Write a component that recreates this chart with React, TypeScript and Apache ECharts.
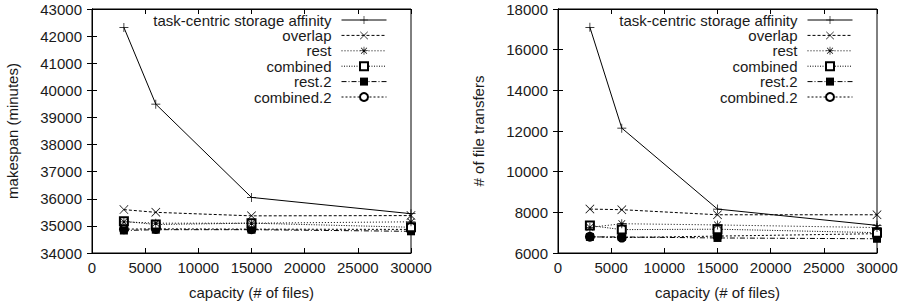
import React, { useEffect, useRef } from "react";
import * as echarts from "echarts";

const capacities = [3000, 6000, 15000, 30000];
const seriesNames = [
  "task-centric storage affinity",
  "overlap",
  "rest",
  "combined",
  "rest.2",
  "combined.2",
];
const xTicks = { min: 0, max: 30000, interval: 5000 };
const leftTicks = { min: 34000, max: 43000, interval: 1000 };
const rightTicks = { min: 6000, max: 18000, interval: 2000 };

// makespan (minutes)
const mkTask = [42320, 39490, 36050, 35450];
const mkOverlap = [35600, 35500, 35370, 35380];
const mkRest = [35150, 35100, 35100, 35150];
const mkCombined = [35170, 35050, 35100, 34950];
const mkRest2 = [34830, 34860, 34860, 34800];
const mkCombined2 = [34880, 34890, 34880, 34870];

// # of file transfers
const ftTask = [17100, 12140, 8160, 7360];
const ftOverlap = [8160, 8130, 7880, 7880];
const ftRest = [7260, 7440, 7380, 7250];
const ftCombined = [7350, 7150, 7170, 7000];
const ftRest2 = [6790, 6790, 6740, 6700];
const ftCombined2 = [6800, 6760, 6830, 6950];

const PLUS = "path://M4.6,0h0.8v4.6h4.6v0.8h-4.6v4.6h-0.8v-4.6h-4.6v-0.8h4.6z";
const CROSS =
  "path://M0,0.55L0.55,0L5,4.45L9.45,0L10,0.55L5.55,5L10,9.45L9.45,10L5,5.55L0.55,10L0,9.45L4.45,5Z";
const STAR =
  "path://M4.6,0h0.8v4.6h4.6v0.8h-4.6v4.6h-0.8v-4.6h-4.6v-0.8h4.6z M1,1.55L1.55,1L5,4.45L8.45,1L9,1.55L5.55,5L9,8.45L8.45,9L5,5.55L1.55,9L1,8.45L4.45,5Z";

const styles = [
  { symbol: PLUS, size: 9, dash: "solid" as any, border: 0 },
  { symbol: CROSS, size: 9, dash: [3, 2], border: 0 },
  { symbol: STAR, size: 9, dash: [1, 2], border: 0 },
  { symbol: "emptyRect", size: 8, dash: [1, 1.5], border: 1 },
  { symbol: "rect", size: 8, dash: [5, 2, 1, 2], border: 0 },
  { symbol: "emptyCircle", size: 8, dash: [2, 2], border: 1 },
];

const FONT = "'Liberation Sans', Arial, Helvetica, sans-serif";
const TEXT = "#1a1a1a";

export default function App() {
  const ref = useRef<HTMLDivElement>(null);
  useEffect(() => {
    if (!ref.current) return;
    const chart = echarts.init(ref.current, undefined, { renderer: "svg" });
    const panels = [
      {
        grid: { left: 92, right: 499, top: 9, bottom: 54 },
        y: leftTicks,
        name: "makespan (minutes)",
        data: [mkTask, mkOverlap, mkRest, mkCombined, mkRest2, mkCombined2],
        legendRight: 518,
      },
      {
        grid: { left: 558, right: 33, top: 9, bottom: 54 },
        y: rightTicks,
        name: "# of file transfers",
        data: [ftTask, ftOverlap, ftRest, ftCombined, ftRest2, ftCombined2],
        legendRight: 52,
      },
    ];
    const fmt = (v: number) => String(v);
    const axisLine = { show: true, lineStyle: { color: "#000", width: 1 } };
    const axisTick = { show: true, inside: true, length: 5, lineStyle: { color: "#000", width: 1 } };
    const label = { fontSize: 15, color: TEXT, fontFamily: FONT };
    const grid: any[] = [];
    const xAxis: any[] = [];
    const yAxis: any[] = [];
    const series: any[] = [];
    const legend: any[] = [];
    panels.forEach((p, gi) => {
      grid.push({ ...p.grid, show: true, borderColor: "#000", borderWidth: 1, backgroundColor: "transparent" });
      xAxis.push({
        type: "value", gridIndex: gi, position: "bottom", ...xTicks,
        axisLine, axisTick, splitLine: { show: false },
        axisLabel: { ...label, margin: 7, formatter: fmt },
        name: "capacity (# of files)", nameLocation: "middle", nameGap: 32,
        nameTextStyle: { ...label },
      });
      xAxis.push({
        type: "value", gridIndex: gi, position: "top", ...xTicks,
        axisLine, axisTick, splitLine: { show: false }, axisLabel: { show: false },
      });
      yAxis.push({
        type: "value", gridIndex: gi, position: "left", ...p.y,
        axisLine, axisTick, splitLine: { show: false },
        axisLabel: { ...label, margin: 10, formatter: fmt },
        name: p.name, nameLocation: "middle", nameGap: 72, nameRotate: 90,
        nameTextStyle: { ...label },
      });
      yAxis.push({
        type: "value", gridIndex: gi, position: "right", ...p.y,
        axisLine, axisTick, splitLine: { show: false }, axisLabel: { show: false },
      });
      p.data.forEach((vals, si) => {
        const st = styles[si];
        series.push({
          type: "line",
          name: seriesNames[si],
          xAxisIndex: gi * 2,
          yAxisIndex: gi * 2,
          data: capacities.map((c, i) => [c, vals[i]]),
          symbol: st.symbol,
          symbolSize: st.size,
          showAllSymbol: true,
          color: "#000",
          itemStyle: { color: "#000", borderColor: "#000", borderWidth: st.border },
          lineStyle: { color: "#000", width: 1, type: st.dash },
          z: 10 - si,
        });
      });
      legend.push({
        show: true,
        data: seriesNames,
        orient: "vertical",
        align: "right",
        right: p.legendRight,
        top: 7.5,
        itemWidth: 45,
        itemHeight: 10,
        itemGap: 0.4,
        selectedMode: false,
        lineStyle: { width: 1 },
        itemStyle: { borderWidth: 0 },
        textStyle: { ...label, lineHeight: 15, padding: [0, 5, 0, 0] },
      });
    });
    chart.setOption({
      animation: false,
      backgroundColor: "#fff",
      textStyle: { fontFamily: FONT },
      grid, xAxis, yAxis, series, legend,
    });
    return () => chart.dispose();
  }, []);
  return (
    <div
      ref={ref}
      style={{ position: "fixed", left: 0, top: 0, width: 910, height: 307 }}
    />
  );
}
